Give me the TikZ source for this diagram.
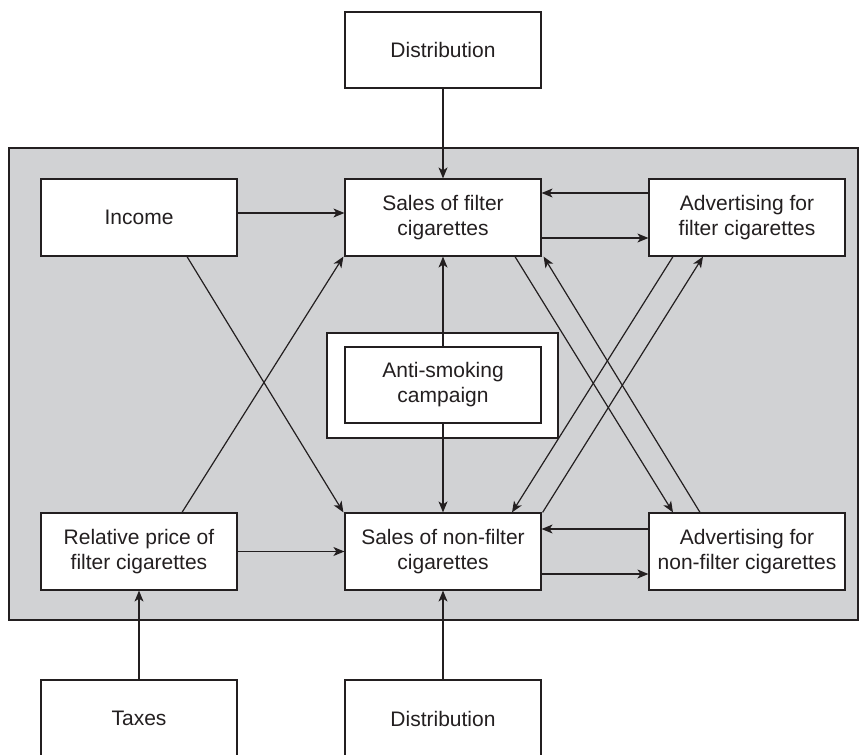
\documentclass[tikz,border=0pt]{standalone}
\usepackage{fontspec}
\setmainfont{Liberation Sans}
\usetikzlibrary{arrows.meta,calc}
\definecolor{ink}{HTML}{231F20}
\definecolor{panel}{HTML}{D1D2D4}
\begin{document}
\begin{tikzpicture}[x=1pt,y=-1pt,
  every node/.style={font=\fontsize{21}{25}\selectfont},
  box/.style={draw=ink,line width=1.2pt,fill=white,inner sep=0pt,
    minimum width=196pt,minimum height=77pt,align=center,text=ink},
  conn/.style={draw=ink,line width=1.2pt,-{Stealth[length=11pt,width=9pt,inset=3pt]}}]
\useasboundingbox (0,0) rectangle (866,754);
\clip (0,0) rectangle (866,754);
% panel
\draw[draw=ink,line width=1.2pt,fill=panel] (9,148) rectangle (858,620);
% nodes
\node[box,minimum height=76pt] (distT) at (443,50) {Distribution};
\node[box] (income) at (139,217.5) {Income};
\node[box] (salesF) at (443,217.5) {Sales of filter\\cigarettes};
\node[box] (advF) at (747,217.5) {Advertising for\\filter cigarettes};
\node[box,minimum width=231pt,minimum height=105pt] (anti) at (442.5,385.5) {};
\node[box,minimum height=76pt] (antiIn) at (443,385) {Anti-smoking\\campaign};
\node[box] (relP) at (139,551.5) {Relative price of\\filter cigarettes};
\node[box] (salesNF) at (443,551.5) {Sales of non-filter\\cigarettes};
\node[box] (advNF) at (747,551.5) {Advertising for\\non-filter cigarettes};
\node[box] (taxes) at (139,718.5) {Taxes};
\node[box] (distB) at (443,718.5) {Distribution};
% connectors
\draw[conn] (distT.south) -- (salesF.north);
\draw[conn] (distB.north) -- (salesNF.south);
\draw[conn] (taxes.north) -- (relP.south);
\draw[conn] ([yshift=4.5pt]income.east) -- ([yshift=4.5pt]salesF.west);
\draw[conn] (relP.east) -- (salesNF.west);
\draw[conn] ([yshift=24.5pt]advF.west) -- ([yshift=24.5pt]salesF.east);
\draw[conn] ([yshift=-20.5pt]salesF.east) -- ([yshift=-20.5pt]advF.west);
\draw[conn] ([yshift=22.5pt]advNF.west) -- ([yshift=22.5pt]salesNF.west -| salesNF.east);
\draw[conn] ([yshift=-22.5pt]salesNF.east) -- ([yshift=-22.5pt]advNF.west);
\draw[conn] (antiIn.north) -- (salesF.south);
\draw[conn] (antiIn.south) -- (salesNF.north);
\draw[conn] ($(income.south)+(48,0)$) -- ($(salesNF.north west)+(-1,0)$);
\draw[conn] ($(relP.north)+(43,0)$) -- ($(salesF.south west)+(-1,0)$);
\draw[conn] ($(salesF.south)+(72,0)$) -- ($(advNF.north)+(-74,0)$);
\draw[conn] ($(advNF.north)+(-47,0)$) -- ($(salesF.south east)+(2,0)$);
\draw[conn] ($(advF.south)+(-74,0)$) -- ($(salesNF.north)+(69,0)$);
\draw[conn] ($(salesNF.north east)+(1,0)$) -- ($(advF.south)+(-44,0)$);
\end{tikzpicture}
\end{document}
